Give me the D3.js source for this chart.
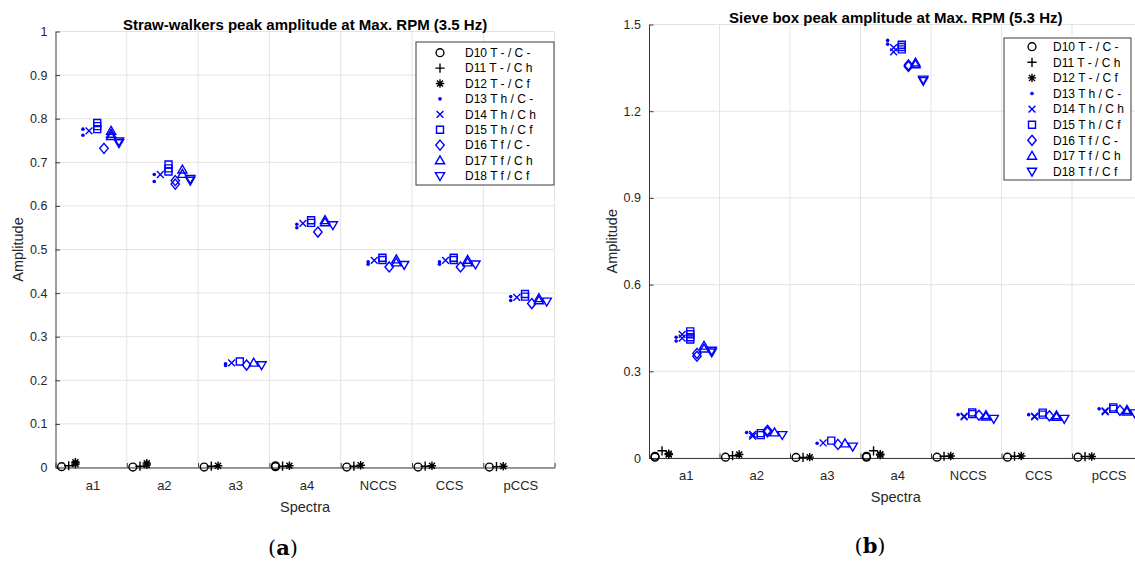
<!DOCTYPE html>
<html><head><meta charset="utf-8">
<script src="https://cdn.jsdelivr.net/npm/d3@7"></script>
<style>
body{margin:0;background:#fff}
svg{display:block}
text{font-family:"Liberation Sans",Arial,Helvetica,sans-serif}
</style>
</head><body>
<svg id="chart" width="1135" height="563"></svg>
<script>
// ---------------- DATA ----------------
const categories = ["a1", "a2", "a3", "a4", "NCCS", "CCS", "pCCS"];
const seriesNames = ["D10 T - / C -", "D11 T - / C h", "D12 T - / C f",
                     "D13 T h / C -", "D14 T h / C h", "D15 T h / C f",
                     "D16 T f / C -", "D17 T f / C h", "D18 T f / C f"];
const markerTypes = ["circle", "plus", "star", "dot", "cross", "square", "diamond", "triUp", "triDown"];
const seriesColors = ["#000000", "#000000", "#000000", "#0000ff", "#0000ff", "#0000ff", "#0000ff", "#0000ff", "#0000ff"];

const strawTicks = [0, 0.1, 0.2, 0.3, 0.4, 0.5, 0.6, 0.7, 0.8, 0.9, 1];
const strawTickLabels = ["0", "0.1", "0.2", "0.3", "0.4", "0.5", "0.6", "0.7", "0.8", "0.9", "1"];
const sieveTicks = [0, 0.3, 0.6, 0.9, 1.2, 1.5];
const sieveTickLabels = ["0", "0.3", "0.6", "0.9", "1.2", "1.5"];

// Straw-walkers (3.5 Hz): per series, per category, repeated measurements
const strawD10 = [[0.002], [0.001], [0.001], [0.002, 0.004], [0.001], [0.001], [0.001]];
const strawD11 = [[0.004], [0.003], [0.003], [0.003], [0.003], [0.003], [0.002]];
const strawD12 = [[0.008, 0.012], [0.006, 0.010], [0.004], [0.004], [0.005], [0.004], [0.003]];
const strawD13 = [[0.776, 0.762], [0.672, 0.656], [0.238, 0.234], [0.558, 0.550], [0.472, 0.466], [0.472, 0.466], [0.392, 0.383]];
const strawD14 = [[0.772], [0.672], [0.240], [0.560], [0.475], [0.475], [0.390]];
const strawD15 = [[0.790, 0.783, 0.776], [0.695, 0.686, 0.679], [0.243], [0.567, 0.561], [0.481, 0.476], [0.481, 0.476], [0.398, 0.392]];
const strawD16 = [[0.732], [0.658, 0.650], [0.235], [0.540], [0.460], [0.460], [0.376]];
const strawD17 = [[0.772, 0.765, 0.760], [0.683, 0.673], [0.240], [0.567, 0.562], [0.477, 0.470], [0.476, 0.470], [0.388, 0.383]];
const strawD18 = [[0.748, 0.744], [0.662, 0.658], [0.235], [0.556], [0.465], [0.466], [0.381]];

// Sieve box (5.3 Hz)
const sieveD10 = [[0.003, 0.006], [0.003], [0.002], [0.003, 0.006], [0.003], [0.003], [0.003]];
const sieveD11 = [[0.025], [0.008], [0.002], [0.025], [0.006], [0.006], [0.005]];
const sieveD12 = [[0.015, 0.012], [0.012], [0.003], [0.013, 0.010], [0.007], [0.007], [0.005]];
const sieveD13 = [[0.418, 0.405], [0.088], [0.051], [1.445, 1.432], [0.150], [0.150], [0.170]];
const sieveD14 = [[0.428, 0.415], [0.076, 0.082], [0.052], [1.420, 1.405], [0.145, 0.142], [0.145, 0.142], [0.163, 0.160]];
const sieveD15 = [[0.438, 0.428, 0.418, 0.410], [0.086, 0.079], [0.060], [1.430, 1.422, 1.414], [0.158, 0.152], [0.157, 0.150], [0.175, 0.170]];
const sieveD16 = [[0.362, 0.352], [0.096, 0.090], [0.047], [1.355, 1.360], [0.148], [0.146], [0.165]];
const sieveD17 = [[0.388, 0.378], [0.088], [0.050], [1.368, 1.362], [0.148, 0.143], [0.147, 0.142], [0.166, 0.160]];
const sieveD18 = [[0.372, 0.366], [0.080], [0.040], [1.310, 1.305], [0.136], [0.136], [0.155]];

// ---------------- LAYOUT ----------------
const svg = d3.select("#chart");
const seriesOffsets = [0.085, 0.185, 0.28, 0.385, 0.47, 0.585, 0.68, 0.78, 0.89];
const labelOffset = 0.52;
const axisColor = "#3a3a3a";
const gridColor = "#e3e3e3";

function markerPath(type) {
  switch (type) {
    case "plus": return "M-4.6,0H4.6M0,-4.6V4.6";
    case "star": return "M-4.2,0H4.2M0,-4.2V4.2M-3,-3L3,3M-3,3L3,-3";
    case "cross": return "M-3.4,-3.4L3.4,3.4M-3.4,3.4L3.4,-3.4";
    case "square": return "M-3.5,-3.5H3.5V3.5H-3.5Z";
    case "diamond": return "M0,-5L4.2,0L0,5L-4.2,0Z";
    case "triUp": return "M0,-4.6L4.6,3.3L-4.6,3.3Z";
    case "triDown": return "M0,4.6L4.6,-3.3L-4.6,-3.3Z";
  }
  return "";
}

function drawMarker(g, type, cx, cy, color) {
  if (type === "circle") {
    g.append("circle").attr("cx", cx).attr("cy", cy).attr("r", 3.9)
      .attr("fill", "none").attr("stroke", color).attr("stroke-width", 1.4);
  } else if (type === "dot") {
    g.append("circle").attr("cx", cx).attr("cy", cy).attr("r", 1.8).attr("fill", color);
  } else {
    g.append("path").attr("d", markerPath(type)).attr("transform", `translate(${cx},${cy})`)
      .attr("fill", "none").attr("stroke", color).attr("stroke-width", 1.4)
      .attr("stroke-linejoin", "miter");
  }
}

function drawPanel(cfg) {
  const g = svg.append("g");
  const x = d3.scaleLinear().domain([0, categories.length]).range([cfg.left, cfg.right]);
  const y = d3.scaleLinear().domain([0, cfg.ymax]).range([cfg.bottom, cfg.top]);

  // grid
  g.append("g").selectAll("line").data(cfg.ticks).join("line")
    .attr("x1", cfg.left).attr("x2", cfg.right)
    .attr("y1", d => y(d)).attr("y2", d => y(d))
    .attr("stroke", gridColor).attr("stroke-width", 1);
  g.append("g").selectAll("line").data(d3.range(1, categories.length + 1)).join("line")
    .attr("x1", d => x(d)).attr("x2", d => x(d))
    .attr("y1", cfg.top).attr("y2", cfg.bottom)
    .attr("stroke", gridColor).attr("stroke-width", 1);

  // y axis
  const ya = g.append("g").attr("transform", `translate(${cfg.left},0)`)
    .call(d3.axisLeft(y).tickValues(cfg.ticks).tickFormat((d, i) => cfg.tickLabels[i])
      .tickSizeInner(-4.5).tickSizeOuter(0).tickPadding(8));
  ya.select(".domain").attr("stroke", axisColor);
  ya.selectAll(".tick line").attr("stroke", axisColor);
  ya.selectAll("text").attr("font-size", 12.5).attr("fill", "#262626")
    .attr("font-family", "Liberation Sans, Arial, sans-serif");

  // x axis: ticks at band boundaries
  const xa = g.append("g").attr("transform", `translate(0,${cfg.bottom})`)
    .call(d3.axisBottom(x).tickValues(d3.range(0, categories.length + 1)).tickFormat("")
      .tickSizeInner(-4.5).tickSizeOuter(0));
  xa.select(".domain").attr("stroke", axisColor);
  xa.selectAll(".tick line").attr("stroke", axisColor);
  // x labels
  const xl = g.append("g").attr("transform", `translate(0,${cfg.bottom})`)
    .call(d3.axisBottom(x).tickValues(d3.range(categories.length).map(i => i + labelOffset))
      .tickFormat((d, i) => categories[i]).tickSize(0).tickPadding(13));
  xl.select(".domain").remove();
  xl.selectAll("text").attr("font-size", 13).attr("fill", "#262626")
    .attr("font-family", "Liberation Sans, Arial, sans-serif");

  // title
  g.append("text").attr("x", (cfg.left + cfg.right) / 2).attr("y", cfg.titleY)
    .attr("text-anchor", "middle").attr("font-weight", "bold").attr("font-size", 15)
    .attr("fill", "#000").text(cfg.title);
  // axis titles
  g.append("text").attr("x", (cfg.left + cfg.right) / 2).attr("y", cfg.bottom + cfg.xTitleDy)
    .attr("text-anchor", "middle").attr("font-size", 14.5).attr("fill", "#262626").text("Spectra");
  g.append("text").attr("transform", `translate(${cfg.yTitleX},${(cfg.top + cfg.bottom) / 2}) rotate(-90)`)
    .attr("text-anchor", "middle").attr("font-size", 14.5).attr("fill", "#262626").text("Amplitude");

  // markers
  const mg = g.append("g");
  cfg.series.forEach((ser, j) => {
    ser.forEach((vals, i) => {
      vals.forEach(v => drawMarker(mg, markerTypes[j], x(i + seriesOffsets[j]), y(v), seriesColors[j]));
    });
  });

  // legend
  const L = cfg.legend;
  const lg = g.append("g");
  lg.append("rect").attr("x", L.x).attr("y", L.y).attr("width", L.w).attr("height", L.h)
    .attr("fill", "#fff").attr("stroke", "#3a3a3a").attr("stroke-width", 1);
  seriesNames.forEach((name, j) => {
    const cy = L.y + L.first + j * L.step;
    drawMarker(lg, markerTypes[j], L.x + L.mx, cy, seriesColors[j]);
    lg.append("text").attr("x", L.x + L.tx).attr("y", cy + 4.3)
      .attr("font-size", 12).attr("fill", "#000").text(name);
  });

  // caption
  const cap = g.append("text").attr("x", cfg.capX).attr("y", cfg.capY).attr("text-anchor", "middle")
    .attr("font-family", "DejaVu Serif, Liberation Serif, serif").attr("font-size", 21).attr("fill", "#000");
  cap.append("tspan").attr("font-family", "DejaVu Serif, serif").text("(");
  cap.append("tspan").attr("font-weight", "bold").attr("font-family", "DejaVu Serif, serif").text(cfg.capLetter);
  cap.append("tspan").attr("font-family", "DejaVu Serif, serif").text(")");
}

drawPanel({
  left: 55.5, right: 554.6, top: 31.5, bottom: 467.5, ymax: 1,
  ticks: strawTicks, tickLabels: strawTickLabels,
  title: "Straw-walkers peak amplitude at Max. RPM (3.5 Hz)", titleY: 29.5,
  xTitleDy: 44, yTitleX: 23,
  series: [strawD10, strawD11, strawD12, strawD13, strawD14, strawD15, strawD16, strawD17, strawD18],
  legend: { x: 416, y: 42, w: 138, h: 143, first: 10.7, step: 15.4, mx: 24, tx: 49 },
  capX: 283, capY: 555, capLetter: "a"
});

drawPanel({
  left: 649, right: 1142.5, top: 24.5, bottom: 458, ymax: 1.5,
  ticks: sieveTicks, tickLabels: sieveTickLabels,
  title: "Sieve box peak amplitude at Max. RPM (5.3 Hz)", titleY: 22.5,
  xTitleDy: 44, yTitleX: 617,
  series: [sieveD10, sieveD11, sieveD12, sieveD13, sieveD14, sieveD15, sieveD16, sieveD17, sieveD18],
  legend: { x: 1004, y: 38, w: 127, h: 142, first: 8.7, step: 15.6, mx: 28, tx: 49 },
  capX: 870, capY: 553, capLetter: "b"
});
</script>
</body></html>
